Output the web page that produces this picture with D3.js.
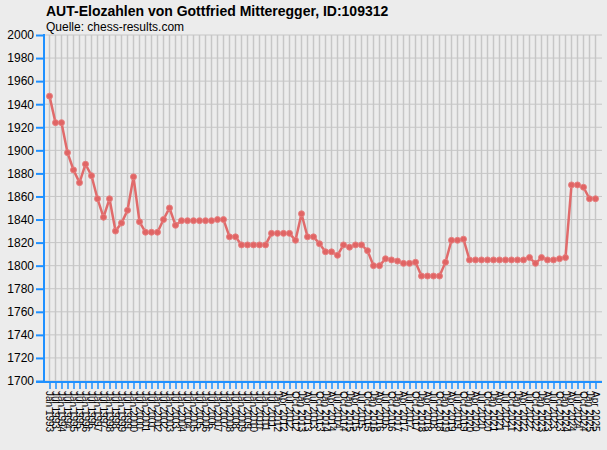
<!DOCTYPE html>
<html><head><meta charset="utf-8">
<script src="https://cdn.jsdelivr.net/npm/d3@7"></script>
<style>
html,body{margin:0;padding:0;background:#ececec;}
svg{display:block;font-family:"Liberation Sans",Arial,sans-serif;}
</style></head>
<body>
<svg id="c" width="607" height="450"></svg>
<script>
// ---- data ----
const title = "AUT-Elozahlen von Gottfried Mitteregger, ID:109312";
const subtitle = "Quelle: chess-results.com";
const dates = (function(){
  const out = [];
  for (let y = 1993; y <= 2011; y++) { out.push("Jan " + y); out.push("Jul " + y); }
  for (let y = 2012; y <= 2025; y++) {
    for (const m of ["Jan","Apr","Jul","Oct"]) { if (y === 2025 && m === "Jul") break; out.push(m + " " + y); }
  }
  return out;
})();
const elo = [
  1947,1924,1924,1898,1883,1872,1888,1878,1858,1842,
  1858,1830,1837,1848,1877,1838,1829,1829,1829,1840,
  1850,1835,1839,1839,1839,1839,1839,1839,1840,1840,
  1825,1825,1818,1818,1818,1818,1818,1828,1828,1828,
  1828,1822,1845,1825,1825,1819,1812,1812,1809,1818,
  1816,1818,1818,1813,1800,1800,1806,1805,1804,1802,
  1802,1803,1791,1791,1791,1791,1803,1822,1822,1823,
  1805,1805,1805,1805,1805,1805,1805,1805,1805,1805,
  1807,1802,1807,1805,1805,1806,1807,1870,1870,1868,
  1858,1858
];
const yTicks = [1700,1720,1740,1760,1780,1800,1820,1840,1860,1880,1900,1920,1940,1960,1980,2000];

// ---- chart ----
const svg = d3.select("#c");
const blue = "#1e90ff";
const x = d3.scalePoint().domain(dates).range([49.5, 595.5]);
const y = d3.scaleLinear().domain([1700, 2000]).range([381, 35]);

// title
svg.append("text").attr("x", 46).attr("y", 16).attr("font-size", 14).attr("font-weight", "bold").attr("fill", "#000").text(title);
svg.append("text").attr("x", 46).attr("y", 31).attr("font-size", 12).attr("fill", "#000").text(subtitle);

// grid
const grid = svg.append("g");
grid.selectAll("line.h").data(yTicks).join("line")
  .attr("x1", 44).attr("x2", 602).attr("y1", d => y(d)).attr("y2", d => y(d))
  .attr("stroke", "#c6c6c6").attr("stroke-width", 1);
grid.selectAll("line.v").data(dates).join("line")
  .attr("x1", d => x(d)).attr("x2", d => x(d)).attr("y1", y(2000)).attr("y2", 381)
  .attr("stroke", "#c6c6c6").attr("stroke-width", 1.5);

// y axis
const ya = svg.append("g").attr("transform", "translate(44,0)")
  .call(d3.axisLeft(y).tickValues(yTicks).tickSize(8).tickPadding(2).tickFormat(d3.format("d")));
ya.select(".domain").attr("stroke", blue).attr("stroke-width", 2).attr("d", "M0," + (y(2000) - 1) + "V" + 382);
ya.selectAll(".tick line").attr("stroke", blue).attr("stroke-width", 2);
ya.selectAll(".tick text").attr("font-size", 12).attr("fill", "#000").attr("font-family", "Liberation Sans, Arial, sans-serif");

// x axis
const xa = svg.append("g").attr("transform", "translate(0,382)")
  .call(d3.axisBottom(x).tickSize(7).tickPadding(2));
xa.select(".domain").attr("stroke", blue).attr("stroke-width", 2).attr("d", "M36,0H602");
xa.selectAll(".tick line").attr("stroke", blue).attr("stroke-width", 2).attr("stroke-opacity", 0.75);
xa.selectAll(".tick text")
  .attr("font-size", 10).attr("fill", "#000").attr("font-family", "Liberation Sans, Arial, sans-serif")
  .attr("text-anchor", "start").attr("dy", null)
  .attr("transform", "translate(-4,9) rotate(90)").attr("y", 0).attr("x", 0);

// line + points
const pts = dates.map((d, i) => [d, elo[i]]);
const red = "#e06464";
svg.append("path").datum(pts)
  .attr("fill", "none").attr("stroke", red).attr("stroke-width", 2.5).attr("stroke-opacity", 0.95)
  .attr("d", d3.line().x(d => x(d[0])).y(d => y(d[1])));
svg.append("g").selectAll("circle").data(pts).join("circle")
  .attr("cx", d => x(d[0])).attr("cy", d => y(d[1])).attr("r", 3)
  .attr("fill", red).attr("stroke", "#e78080").attr("stroke-width", 1);
</script>
</body></html>
